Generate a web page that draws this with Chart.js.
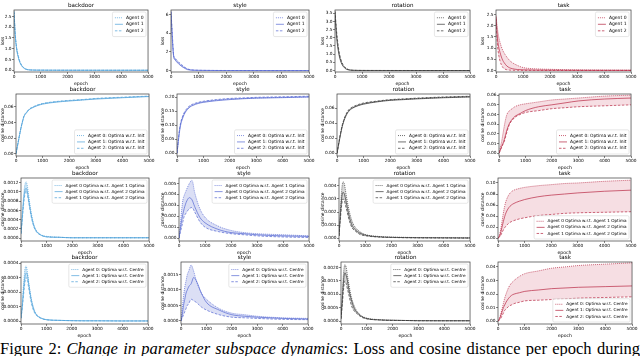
<!DOCTYPE html>
<html><head><meta charset="utf-8">
<script src="https://cdn.jsdelivr.net/npm/chart.js@4.4.1/dist/chart.umd.min.js"></script>
<style>
html,body{margin:0;padding:0;width:640px;height:356px;overflow:hidden;background:#fff;position:relative;}
canvas{position:absolute;}
#cap{position:absolute;left:0;top:341px;width:640px;font-family:'Liberation Serif','DejaVu Serif',serif;font-size:16.5px;line-height:16px;white-space:nowrap;text-align:justify;text-align-last:justify;color:#000;}
</style></head><body>
<div id="cap">Figure 2: <i>Change in parameter subspace dynamics</i>: Loss and cosine distance per epoch during</div>
<script>
const epochs = [0,50,100,150,200,250,300,400,500,600,800,1000,1500,2000,2500,3000,4000,5000];
const xTicks = [0,1000,2000,3000,4000,5000];
const tasks = ['backdoor','style','rotation','task'];

const lossLabels = ['Agent 0','Agent 1','Agent 2'];
const initLabels = ['Agent 0: Optima w.r.t. Init','Agent 1: Optima w.r.t. Init','Agent 2: Optima w.r.t. Init'];
const pairLabels = ['Agent 0 Optima w.r.t. Agent 1 Optima','Agent 0 Optima w.r.t. Agent 2 Optima','Agent 1 Optima w.r.t. Agent 2 Optima'];
const centreLabels = ['Agent 0: Optima w.r.t. Centre','Agent 1: Optima w.r.t. Centre','Agent 2: Optima w.r.t. Centre'];

// Row 1: loss
const lossBackdoor = [
 [2.75,1.6,1.0,0.7,0.45,0.3,0.2,0.08,0.03,0.015,0.008,0.005,0.003,0.002,0.002,0.001,0.001,0.001],
 [2.7,1.55,0.95,0.65,0.42,0.28,0.18,0.07,0.03,0.014,0.007,0.005,0.003,0.002,0.002,0.001,0.001,0.001],
 [2.72,1.65,1.05,0.72,0.48,0.32,0.21,0.09,0.035,0.016,0.008,0.005,0.003,0.002,0.002,0.001,0.001,0.001]];
const lossStyle = [
 [6.3,3.5,1.5,1.25,1.05,0.9,0.75,0.5,0.3,0.15,0.05,0.03,0.015,0.01,0.008,0.006,0.005,0.004],
 [6.2,3.2,1.4,1.15,0.95,0.8,0.65,0.42,0.24,0.1,0.04,0.025,0.012,0.009,0.007,0.005,0.004,0.003],
 [6.35,3.8,1.6,1.35,1.15,1.0,0.85,0.6,0.36,0.18,0.06,0.035,0.018,0.012,0.009,0.007,0.005,0.004]];
const lossRotation = [
 [3.6,2.4,1.6,1.05,0.7,0.47,0.3,0.13,0.05,0.02,0.008,0.005,0.003,0.002,0.002,0.001,0.001,0.001],
 [3.55,2.2,1.45,0.95,0.62,0.4,0.26,0.1,0.04,0.017,0.007,0.004,0.003,0.002,0.001,0.001,0.001,0.001],
 [3.62,2.55,1.75,1.15,0.78,0.52,0.35,0.15,0.06,0.025,0.01,0.005,0.003,0.002,0.002,0.001,0.001,0.001]];
const lossTask = [
 [2.45,1.9,1.5,1.25,1.05,0.9,0.78,0.6,0.45,0.35,0.22,0.13,0.07,0.05,0.035,0.025,0.015,0.01],
 [2.4,1.5,1.05,0.8,0.6,0.45,0.35,0.2,0.12,0.08,0.04,0.025,0.015,0.01,0.008,0.006,0.005,0.004],
 [2.3,1.2,0.7,0.42,0.25,0.14,0.08,0.03,0.015,0.008,0.004,0.003,0.002,0.002,0.001,0.001,0.001,0.001]];

// Row 2: cosine distance, optima w.r.t. init
const initBackdoor = [
 [0,0.009,0.018,0.027,0.035,0.042,0.048,0.053,0.057,0.059,0.062,0.064,0.0665,0.068,0.069,0.0705,0.072,0.0735],
 [0,0.0085,0.0175,0.0265,0.0345,0.0415,0.0475,0.0525,0.0565,0.0585,0.0615,0.0635,0.066,0.0675,0.0688,0.07,0.0717,0.0732],
 [0,0.0095,0.0185,0.0275,0.0355,0.0425,0.0485,0.0535,0.0573,0.0593,0.0623,0.0643,0.0668,0.0683,0.0694,0.0708,0.0724,0.0738]];
const initStyle = [
 [0,0.045,0.085,0.11,0.125,0.137,0.147,0.16,0.168,0.173,0.18,0.184,0.19,0.194,0.196,0.198,0.2,0.202],
 [0,0.042,0.08,0.106,0.121,0.134,0.144,0.157,0.166,0.171,0.178,0.182,0.188,0.192,0.195,0.197,0.199,0.201],
 [0,0.048,0.09,0.114,0.129,0.141,0.15,0.163,0.171,0.176,0.182,0.186,0.192,0.196,0.198,0.2,0.202,0.204]];
const initRotation = [
 [0,0.01,0.02,0.029,0.037,0.043,0.048,0.055,0.059,0.061,0.064,0.066,0.069,0.071,0.072,0.073,0.0745,0.0755],
 [0,0.0095,0.019,0.028,0.036,0.042,0.047,0.054,0.058,0.0605,0.0635,0.0655,0.0685,0.0705,0.0715,0.0725,0.074,0.075],
 [0,0.0105,0.021,0.03,0.038,0.044,0.049,0.056,0.06,0.062,0.065,0.067,0.0695,0.0715,0.0725,0.0735,0.075,0.076]];
const initTask = [
 [0,0.006,0.012,0.02,0.028,0.035,0.04,0.044,0.046,0.048,0.05,0.051,0.053,0.055,0.056,0.057,0.059,0.06],
 [0,0.003,0.007,0.01,0.014,0.019,0.024,0.031,0.035,0.038,0.041,0.044,0.048,0.05,0.052,0.054,0.056,0.057],
 [0,0.003,0.006,0.009,0.012,0.017,0.022,0.03,0.034,0.037,0.04,0.042,0.044,0.046,0.047,0.048,0.049,0.05]];

// Row 3: cosine distance between agents' optima
const pairBackdoor = [
 [0.0001,0.0005,0.0009,0.00115,0.00122,0.00112,0.00092,0.00055,0.0003,0.00017,0.00007,0.00004,0.00002,0.00001,0.00001,0.00001,0.00001,0.00001],
 [0.0001,0.00045,0.0008,0.00102,0.00108,0.001,0.00082,0.0005,0.00027,0.00015,0.00006,0.00003,0.00002,0.00001,0.00001,0.00001,0.00001,0.00001],
 [0.0001,0.0004,0.00072,0.00094,0.00102,0.00094,0.00078,0.00046,0.00025,0.00014,0.00006,0.00003,0.00002,0.00001,0.00001,0.00001,0.00001,0.00001]];
const pairStyle = [
 [0,0.0012,0.0025,0.0035,0.0039,0.0042,0.0045,0.005,0.0053,0.0042,0.0027,0.0019,0.0011,0.0007,0.0005,0.0004,0.0003,0.0002],
 [0,0.0008,0.0016,0.0022,0.0027,0.0031,0.0034,0.0037,0.0035,0.0029,0.0019,0.0014,0.0008,0.0005,0.0004,0.0003,0.0002,0.00015],
 [0,0.0005,0.001,0.0015,0.002,0.0022,0.0024,0.0027,0.0028,0.0024,0.0015,0.001,0.0006,0.0004,0.0003,0.0002,0.0001,0.00005]];
const pairRotation = [
 [0.0002,0.002,0.0036,0.0043,0.0042,0.0036,0.003,0.002,0.0013,0.0009,0.0005,0.0003,0.00015,0.0001,0.00008,0.00006,0.00005,0.00004],
 [0.0002,0.0017,0.003,0.0035,0.0034,0.003,0.0025,0.0016,0.001,0.0007,0.0004,0.00025,0.00012,0.00008,0.00006,0.00005,0.00004,0.00003],
 [0.0002,0.0014,0.0025,0.003,0.0029,0.0025,0.0021,0.0013,0.0008,0.0006,0.0003,0.0002,0.0001,0.00007,0.00005,0.00004,0.00003,0.00002]];
const pairTask = [
 [0,0.005,0.015,0.03,0.045,0.058,0.067,0.078,0.084,0.087,0.09,0.092,0.095,0.097,0.099,0.1,0.103,0.105],
 [0,0.003,0.01,0.02,0.03,0.039,0.046,0.055,0.06,0.063,0.067,0.07,0.075,0.078,0.08,0.082,0.085,0.087],
 [0,0.002,0.005,0.01,0.015,0.019,0.022,0.027,0.03,0.032,0.035,0.037,0.041,0.043,0.045,0.046,0.047,0.048]];

// Row 4: cosine distance, optima w.r.t. centre
const centreBackdoor = [
 [0.00002,0.00012,0.00025,0.00035,0.00038,0.00034,0.00027,0.00016,0.00009,0.00005,0.00002,0.00001,0.000005,0.000003,0.000002,0.000002,0.000001,0.000001],
 [0.00002,0.0001,0.00021,0.0003,0.00033,0.00032,0.00026,0.00015,0.00008,0.000045,0.00002,0.00001,0.000005,0.000003,0.000002,0.000002,0.000001,0.000001],
 [0.00002,0.00009,0.00018,0.00026,0.0003,0.00028,0.00023,0.00013,0.00007,0.00004,0.000018,0.000009,0.000005,0.000003,0.000002,0.000002,0.000001,0.000001]];
const centreStyle = [
 [0,0.0004,0.0008,0.0011,0.0013,0.0015,0.0016,0.0018,0.0016,0.0013,0.0009,0.0007,0.0004,0.00025,0.0002,0.00015,0.0001,0.00008],
 [0,0.0002,0.0005,0.0007,0.0009,0.001,0.0011,0.0012,0.0014,0.0013,0.0009,0.0006,0.00035,0.0002,0.00015,0.00012,0.00008,0.00006],
 [0,0.0001,0.0002,0.0003,0.0004,0.0005,0.00055,0.0007,0.00065,0.0006,0.00045,0.00035,0.0002,0.00012,0.0001,0.00008,0.00005,0.00004]];
const centreRotation = [
 [0.0001,0.001,0.0018,0.0021,0.002,0.0017,0.0014,0.0009,0.0006,0.0004,0.0002,0.00012,0.00006,0.00004,0.00003,0.00003,0.00002,0.00002],
 [0.0001,0.0008,0.0015,0.0018,0.0017,0.0015,0.0012,0.0008,0.0005,0.00035,0.00018,0.0001,0.00005,0.00004,0.00003,0.00002,0.00002,0.00002],
 [0.0001,0.0006,0.0012,0.0015,0.0014,0.0012,0.001,0.0006,0.0004,0.0003,0.00015,0.00009,0.00005,0.00003,0.00003,0.00002,0.00002,0.00002]];
const centreTask = [
 [0,0.002,0.005,0.009,0.013,0.017,0.02,0.025,0.028,0.03,0.033,0.035,0.037,0.039,0.04,0.041,0.042,0.043],
 [0,0.0015,0.004,0.007,0.01,0.012,0.014,0.017,0.019,0.02,0.021,0.022,0.023,0.024,0.0245,0.025,0.0255,0.026],
 [0,0.001,0.002,0.004,0.006,0.008,0.009,0.011,0.012,0.013,0.014,0.015,0.0155,0.016,0.0165,0.017,0.0175,0.018]];

// y tick labels
const yTicksLoss = [[0,0.5,1,1.5,2,2.5],[0,2,4,6],[0,0.5,1,1.5,2,2.5,3,3.5],[0,0.5,1,1.5,2,2.5]];
const yTicksInit = [[0,0.02,0.04,0.06],[0,0.05,0.1,0.15,0.2],[0,0.02,0.04,0.06],[0,0.01,0.02,0.03,0.04,0.05,0.06]];
const yTicksPair = [[0,0.0002,0.0004,0.0006,0.0008,0.001,0.0012],[0,0.001,0.002,0.003,0.004,0.005],[0,0.001,0.002,0.003,0.004],[0,0.02,0.04,0.06,0.08,0.1]];
const yTicksCentre = [[0,0.0001,0.0002,0.0003,0.0004],[0,0.0005,0.001,0.0015],[0,0.0005,0.001,0.0015,0.002],[0,0.01,0.02,0.03,0.04]];

// ---------- presentation ----------
const F = "'DejaVu Sans'";
const colors = {backdoor:'#4a9fd8', style:'#5366d2', rotation:'#333333', task:'#b5243f'};
const fills = {backdoor:'rgba(110,180,230,0.35)', style:'rgba(90,110,210,0.22)', rotation:'rgba(60,60,60,0.2)', task:'rgba(200,60,90,0.17)'};
const dashes = [[1,1],[],[2.5,1.5]];
const rects = [
 [[14,10,150,72],[171,10,311,72],[335,10,472,72],[496,10,633,72]],
 [[16,94,151,156],[177,94,311,156],[337,94,472,156],[499,94,633,156]],
 [[21,178,151,241],[179,178,311,241],[339,178,472,241],[498,178,633,241]],
 [[21,262,150,324],[181,262,310,324],[341,262,472,324],[498,262,634,324]]];
const rows = [
 {data:[lossBackdoor,lossStyle,lossRotation,lossTask], ticks:yTicksLoss, dec:[1,0,1,1], ylab:'loss', labels:lossLabels,
  range:[[-0.08,2.8],[-0.15,6.5],[-0.09,3.7],[-0.07,2.7]], lpos:['tr','tr','tr','tr'], lfs:4.5},
 {data:[initBackdoor,initStyle,initRotation,initTask], ticks:yTicksInit, dec:[2,2,2,2], ylab:'cosine distance', labels:initLabels,
  range:[[-0.003,0.0765],[-0.01,0.212],[-0.0035,0.079],[-0.003,0.0612]], lpos:['br','br','br','br'], lfs:4.4},
 {data:[pairBackdoor,pairStyle,pairRotation,pairTask], ticks:yTicksPair, dec:[4,3,3,2], ylab:'cosine distance', labels:pairLabels,
  range:[[-0.00006,0.0013],[-0.00027,0.0055],[-0.0002,0.0046],[-0.005,0.109]], lpos:['tr','tr','tr','br'], lfs:4.2},
 {data:[centreBackdoor,centreStyle,centreRotation,centreTask], ticks:yTicksCentre, dec:[4,4,4,2], ylab:'cosine distance', labels:centreLabels,
  range:[[-0.00002,0.000407],[-0.0001,0.0019],[-0.0001,0.0022],[-0.002,0.0436]], lpos:['tr','tr','tr','br'], lfs:4.2}];

const deco = {
 id:'deco',
 afterDatasetsDraw(chart, args, o){
  const ctx = chart.ctx, a = chart.chartArea;
  ctx.save();
  ctx.strokeStyle = '#3a3a3a'; ctx.lineWidth = 0.7; ctx.setLineDash([]);
  ctx.strokeRect(a.left, a.top, a.right - a.left, a.bottom - a.top);
  ctx.fillStyle = '#000'; ctx.font = '5.6px ' + F; ctx.textAlign = 'center'; ctx.textBaseline = 'bottom';
  ctx.fillText(o.title, (a.left + a.right) / 2, a.top - 1.2);
  ctx.font = o.lfs + 'px ' + F;
  const tw = Math.max(...o.labels.map(s => ctx.measureText(s).width));
  const lh = o.lfs * 1.45, pad = 2.5, hl = 8, gap = 3;
  const bw = pad + hl + gap + tw + pad, bh = pad * 2 + lh * o.labels.length;
  const bx = a.right - 2 - bw;
  const by = o.lpos === 'tr' ? a.top + 2 : a.bottom - 2 - bh;
  ctx.fillStyle = 'rgba(255,255,255,0.8)'; ctx.strokeStyle = '#cfcfcf'; ctx.lineWidth = 0.5;
  ctx.beginPath(); ctx.roundRect(bx, by, bw, bh, 1.5); ctx.fill(); ctx.stroke();
  o.labels.forEach((s, k) => {
   const yy = by + pad + lh * (k + 0.5);
   ctx.strokeStyle = o.color; ctx.lineWidth = 0.7; ctx.setLineDash(dashes[k]);
   ctx.beginPath(); ctx.moveTo(bx + pad, yy); ctx.lineTo(bx + pad + hl, yy); ctx.stroke();
   ctx.setLineDash([]);
   ctx.fillStyle = '#000'; ctx.textAlign = 'left'; ctx.textBaseline = 'middle';
   ctx.fillText(s, bx + pad + hl + gap, yy);
  });
  ctx.restore();
 }
};

function pts(s){ return epochs.map((e, i) => ({x: e, y: s[i]})); }

rows.forEach((row, r) => {
 tasks.forEach((task, c) => {
  const [l, t, rr, b] = rects[r][c];
  const cx = c * 160, padTop = 10, padRight = 4, xH = 15;
  const yW = l - cx, cy = t - padTop;
  const W = rr + padRight - cx, H = b + xH - cy;
  const cv = document.createElement('canvas');
  cv.width = W; cv.height = H;
  cv.style.left = cx + 'px'; cv.style.top = cy + 'px'; cv.style.width = W + 'px'; cv.style.height = H + 'px';
  document.body.appendChild(cv);
  const series = row.data[c];
  const lower = epochs.map((e, i) => ({x: e, y: Math.min(...series.map(s => s[i]))}));
  const upper = epochs.map((e, i) => ({x: e, y: Math.max(...series.map(s => s[i]))}));
  const col = colors[task];
  const ds = [
   {data: lower, borderWidth: 0, pointRadius: 0, fill: false, cubicInterpolationMode: 'monotone', borderColor: 'rgba(0,0,0,0)'},
   {data: upper, borderWidth: 0, pointRadius: 0, fill: '-1', backgroundColor: fills[task], cubicInterpolationMode: 'monotone', borderColor: 'rgba(0,0,0,0)'},
   ...series.map((s, k) => ({data: pts(s), borderColor: col, borderWidth: 0.7, borderDash: dashes[k], pointRadius: 0, fill: false, cubicInterpolationMode: 'monotone'}))
  ];
  const tickFont = {size: 4.3, family: F};
  const yt = row.ticks[c], dec = row.dec[c];
  new Chart(cv, {
   type: 'line',
   data: {datasets: ds},
   plugins: [deco],
   options: {
    responsive: false, animation: false, devicePixelRatio: 1,
    layout: {padding: {top: padTop, right: padRight, left: 0, bottom: 0}, autoPadding: false},
    plugins: {legend: {display: false}, tooltip: {enabled: false}, title: {display: false},
     deco: {title: task, labels: row.labels, lpos: row.lpos[c], lfs: row.lfs, color: col}},
    scales: {
     x: {type: 'linear', min: 0, max: 5000,
      afterBuildTicks: a => { a.ticks = xTicks.map(v => ({value: v})); },
      afterFit: a => { a.height = xH; },
      ticks: {font: tickFont, color: '#000', padding: 0.5, maxRotation: 0, autoSkip: false, callback: v => String(v)},
      grid: {drawOnChartArea: false, drawTicks: true, tickLength: 2, color: '#333', lineWidth: 0.6},
      border: {display: false},
      title: {display: true, text: 'epoch', font: {size: 4.6, family: F}, color: '#000', padding: 0}},
     y: {type: 'linear', min: row.range[c][0], max: row.range[c][1],
      afterBuildTicks: a => { a.ticks = yt.map(v => ({value: v})); },
      afterFit: a => { a.width = yW; },
      ticks: {font: tickFont, color: '#000', padding: 0.5, autoSkip: false, callback: v => v.toFixed(dec)},
      grid: {drawOnChartArea: false, drawTicks: true, tickLength: 2, color: '#333', lineWidth: 0.6},
      border: {display: false},
      title: {display: true, text: row.ylab, font: {size: 4.4, family: F}, color: '#000', padding: 0}}
    }
   }
  });
 });
});
</script>
</body></html>
